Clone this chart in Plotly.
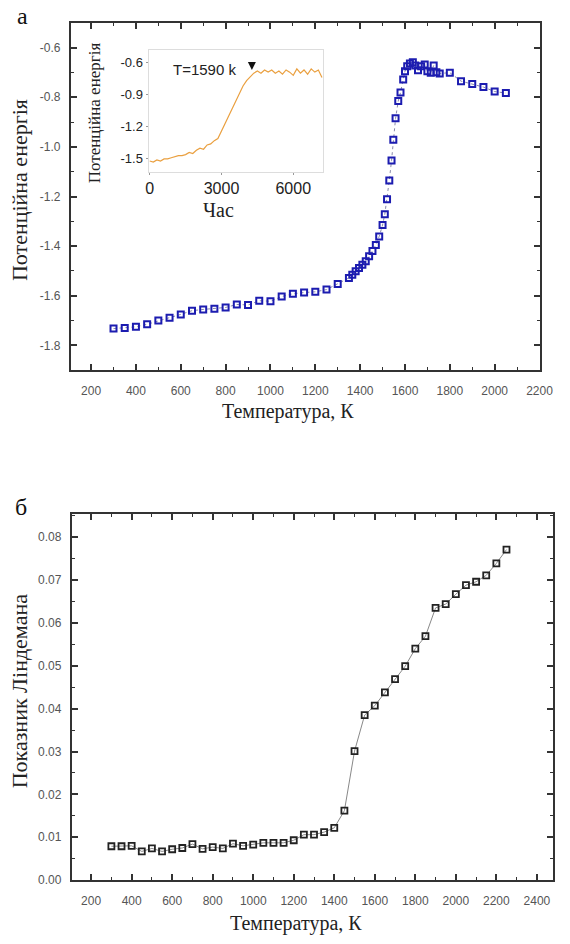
import plotly.graph_objects as go

W, H = 570, 944

# Panel а: potential energy vs temperature
temp_a = [300, 350, 400, 450, 500, 550, 600, 650, 700, 750, 800, 850, 900, 950,
          1000, 1050, 1100, 1150, 1200, 1250, 1300,
          1350, 1365, 1380, 1395, 1410, 1425, 1440, 1455, 1470, 1485,
          1500, 1510, 1520, 1530, 1540, 1548, 1558, 1570, 1580, 1592,
          1600, 1610, 1622, 1635, 1646, 1658, 1672, 1688, 1700, 1715, 1728, 1740, 1755,
          1800, 1850, 1900, 1950, 2000, 2050]
energy_a = [-1.732, -1.730, -1.725, -1.715, -1.700, -1.688, -1.675, -1.660, -1.655, -1.652,
            -1.647, -1.635, -1.637, -1.620, -1.622, -1.603, -1.592, -1.587, -1.584, -1.575, -1.552,
            -1.528, -1.515, -1.501, -1.488, -1.475, -1.461, -1.441, -1.419, -1.395, -1.361,
            -1.315, -1.271, -1.211, -1.135, -1.055, -0.971, -0.885, -0.815, -0.781, -0.728,
            -0.695, -0.675, -0.664, -0.659, -0.672, -0.691, -0.675, -0.668, -0.695, -0.701,
            -0.672, -0.699, -0.704,
            -0.701, -0.735, -0.747, -0.759, -0.777, -0.783]

# Inset: potential energy vs time at T = 1590 K
time_in = [0, 150, 300, 450, 600, 750, 900, 1050, 1200, 1350, 1500, 1650, 1800, 1950,
           2100, 2250, 2400, 2550, 2700, 2850, 3000, 3150, 3300, 3450, 3600, 3750, 3900,
           4050, 4200, 4350, 4500, 4650, 4800, 4950, 5100, 5250, 5400, 5550, 5700, 5850,
           6000, 6150, 6300, 6450, 6600, 6750, 6900, 7050, 7200]
energy_in = [-1.52, -1.53, -1.51, -1.52, -1.50, -1.50, -1.49, -1.48, -1.47, -1.47, -1.46,
             -1.44, -1.45, -1.42, -1.40, -1.41, -1.37, -1.36, -1.33, -1.31, -1.24, -1.16,
             -1.09, -1.02, -0.96, -0.89, -0.82, -0.77, -0.73, -0.70, -0.68, -0.70, -0.67,
             -0.69, -0.67, -0.70, -0.68, -0.71, -0.67, -0.69, -0.72, -0.66, -0.70, -0.67,
             -0.71, -0.66, -0.69, -0.67, -0.74]

# Panel б: Lindemann index vs temperature
temp_b = [300, 350, 400, 450, 500, 550, 600, 650, 700, 750, 800, 850, 900, 950, 1000,
          1050, 1100, 1150, 1200, 1250, 1300, 1350, 1400, 1450, 1500, 1550, 1600, 1650,
          1700, 1750, 1800, 1850, 1900, 1950, 2000, 2050, 2100, 2150, 2200, 2250]
lind_b = [0.0079, 0.0079, 0.0080, 0.0067, 0.0074, 0.0067, 0.0072, 0.0075, 0.0084, 0.0073,
          0.0077, 0.0074, 0.0085, 0.0080, 0.0083, 0.0087, 0.0087, 0.0087, 0.0093, 0.0106,
          0.0106, 0.0112, 0.0122, 0.0162, 0.0301, 0.0385, 0.0407, 0.0438, 0.0469, 0.0499,
          0.0540, 0.0569, 0.0635, 0.0644, 0.0667, 0.0688, 0.0696, 0.0711, 0.0739, 0.0771]

# Tick labels
xt_a = [200, 400, 600, 800, 1000, 1200, 1400, 1600, 1800, 2000, 2200]
yt_a = [-1.8, -1.6, -1.4, -1.2, -1.0, -0.8, -0.6]
yt_a_text = ["-1.8", "-1.6", "-1.4", "-1.2", "-1.0", "-0.8", "-0.6"]
xt_in = [0, 3000, 6000]
yt_in = [-1.5, -1.2, -0.9, -0.6]
yt_in_text = ["-1.5", "-1.2", "-0.9", "-0.6"]
xt_b = [200, 400, 600, 800, 1000, 1200, 1400, 1600, 1800, 2000, 2200, 2400]
yt_b = [0.00, 0.01, 0.02, 0.03, 0.04, 0.05, 0.06, 0.07, 0.08]

SANS = "Liberation Sans, Arial, sans-serif"
SERIF = "Liberation Serif, Times New Roman, serif"
AX = "#333333"
TICKFONT = dict(family=SANS, size=12, color="#555555")


def px_x(p):
    return p / W


def px_y(p):
    return 1 - p / H


def main_axis(rng, vals, minor_step, text=None, standoff=6):
    d = dict(range=rng, tickmode="array", tickvals=vals, ticks="inside", ticklen=6,
             tickwidth=1.5, tickcolor=AX, showline=True, linecolor=AX, linewidth=2,
             mirror="ticks", showgrid=False, zeroline=False, tickfont=TICKFONT,
             ticklabelstandoff=standoff,
             minor=dict(dtick=minor_step, ticks="inside", ticklen=3, tickwidth=1.2,
                        tickcolor=AX, showgrid=False))
    if text is not None:
        d["ticktext"] = text
    return d


fig = go.Figure()

fig.add_trace(go.Scatter(
    x=temp_a, y=energy_a, mode="lines+markers", xaxis="x", yaxis="y",
    line=dict(color="#8888aa", width=1, dash="dot"),
    marker=dict(symbol="square-open", size=6, color="#1c1cb0", line=dict(width=2, color="#1c1cb0")),
    showlegend=False))

fig.add_trace(go.Scatter(
    x=time_in, y=energy_in, mode="lines", xaxis="x2", yaxis="y2",
    line=dict(color="#eaa040", width=1.2), showlegend=False))

fig.add_trace(go.Scatter(
    x=temp_b, y=lind_b, mode="lines+markers", xaxis="x3", yaxis="y3",
    line=dict(color="#888888", width=1),
    marker=dict(symbol="square-open", size=6, color="#222222", line=dict(width=1.8, color="#222222")),
    showlegend=False))

layout = dict(
    width=W, height=H, margin=dict(l=0, r=0, t=0, b=0),
    paper_bgcolor="white", plot_bgcolor="white", showlegend=False,
    xaxis=dict(domain=[px_x(70), px_x(553)], anchor="y",
               **main_axis([110, 2200], xt_a, 100, standoff=8)),
    yaxis=dict(domain=[px_y(373), px_y(23)], anchor="x",
               **main_axis([-1.9, -0.5], yt_a, 0.1, yt_a_text, standoff=6)),
    xaxis3=dict(domain=[px_x(71), px_x(567)], anchor="y3",
                **main_axis([105, 2480], xt_b, 100, standoff=8)),
    yaxis3=dict(domain=[px_y(886.7), px_y(518.3)], anchor="x3",
                **main_axis([0, 0.0853], yt_b, 0.005, standoff=6), tickformat=".2f"),
    xaxis2=dict(domain=[px_x(150), px_x(330)], anchor="y2", range=[-50, 7250],
                tickmode="array", tickvals=xt_in, ticks="outside", ticklen=2, tickcolor="#999999",
                showline=True, linecolor="#dddddd", linewidth=1, mirror=True, showgrid=False,
                zeroline=False, tickfont=dict(family=SANS, size=16, color="#222222")),
    yaxis2=dict(domain=[px_y(173), px_y(50)], anchor="x2", range=[-1.62, -0.48],
                tickmode="array", tickvals=yt_in, ticktext=yt_in_text, ticks="outside",
                ticklen=2, tickcolor="#999999", showline=True, linecolor="#dddddd",
                linewidth=1, mirror=True, showgrid=False, zeroline=False,
                tickfont=dict(family=SANS, size=13, color="#222222")),
)
fig.update_layout(**layout)

annotations = [
    dict(text="а", x=px_x(20), y=px_y(16), font=dict(family=SERIF, size=24, color="#111111")),
    dict(text="б", x=px_x(19), y=px_y(511), font=dict(family=SERIF, size=24, color="#111111")),
    dict(text="Потенційна енергія", x=px_x(17), y=px_y(191), textangle=-90,
         font=dict(family=SERIF, size=22, color="#222222")),
    dict(text="Температура, К", x=px_x(294), y=px_y(415),
         font=dict(family=SERIF, size=20, color="#222222")),
    dict(text="Показник Ліндемана", x=px_x(17), y=px_y(696), textangle=-90,
         font=dict(family=SERIF, size=22, color="#222222")),
    dict(text="Температура, К", x=px_x(302), y=px_y(930),
         font=dict(family=SERIF, size=20, color="#222222")),
    dict(text="Потенційна енергія", x=px_x(94), y=px_y(114), textangle=-90,
         font=dict(family=SERIF, size=17, color="#222222")),
    dict(text="Час", x=px_x(222), y=px_y(212),
         font=dict(family=SERIF, size=20, color="#222222")),
]
for a in annotations:
    a.update(xref="paper", yref="paper", showarrow=False, xanchor="center", yanchor="middle")

annotations.append(dict(text="T=1590 k", x=2270, y=-0.665, xref="x2", yref="y2",
                        showarrow=False, font=dict(family=SANS, size=15, color="#222222")))
annotations.append(dict(text="", x=4270, y=-0.67, xref="x2", yref="y2", showarrow=True,
                        ax=0, ay=-9, arrowhead=2, arrowsize=1, arrowwidth=1.6,
                        arrowcolor="#111111"))
fig.update_layout(annotations=annotations)

fig.write_html("out.html")
